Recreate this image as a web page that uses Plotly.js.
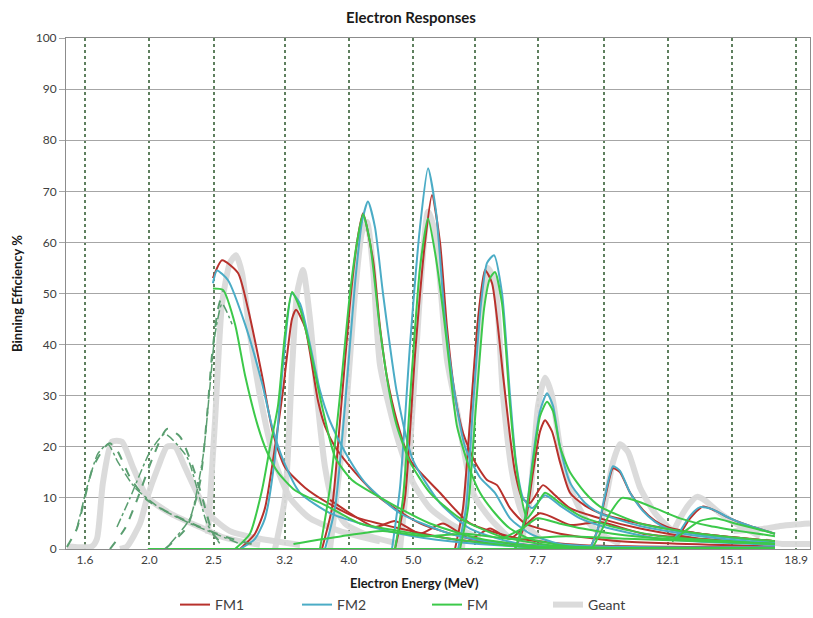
<!DOCTYPE html>
<html><head><meta charset="utf-8">
<script src="https://cdn.plot.ly/plotly-3.0.1.min.js"></script>
<style>html,body{margin:0;padding:0;background:#fff}#chart{width:813px;height:618px}</style>
</head><body><div id="chart"></div>
<script>
// ---- tick labels ----
const TICK_VALS = [1.6,2.0,2.5,3.2,4.0,5.0,6.2,7.7,9.7,12.1,15.1,18.9];
const TICK_TEXT = ['1.6','2.0','2.5','3.2','4.0','5.0','6.2','7.7','9.7','12.1','15.1','18.9'];

// ---- Geant (energies MeV, efficiency %) ----
const G1_E=[1.503,1.639,1.668,1.703,1.757,1.819,1.890,1.985,2.149,2.385,2.584,2.938];
const G1_Y=[0.5,0.5,2,13,21,21,16,10.2,7,4.3,2.3,0.8];
const G2_E=[1.807,1.851,1.937,1.985,2.062,2.127,2.187,2.264,2.360,2.470,2.647,2.938,3.376];
const G2_Y=[0,0.5,5,10,16,20,20,16,11,6.6,3.5,2,0.8];
const G3_E=[2.452,2.513,2.575,2.647,2.703,2.760,2.837,2.958,3.095,3.260,3.495,3.878,4.456];
const G3_Y=[3,25,48,56,57.5,54,42,28,17,10,6,3.5,1.5];
const G4_E=[3.095,3.204,3.283,3.341,3.411,3.495,3.593,3.682,3.785,3.946,4.304,4.777];
const G4_Y=[0,10,35,50,54.6,45,28,16,9,5,2.5,1];
const G5_E=[3.746,3.946,4.086,4.186,4.260,4.349,4.456,4.727,4.997,5.301,5.682,6.306];
const G5_Y=[0,25,50,62,64,55,36,22,13,8,5,2];
const G6_E=[4.777,4.946,5.120,5.265,5.395,5.623,5.822,6.155,6.529,6.999];
const G6_Y=[0,20,50,66,62,37,27,11,6,2];
const G7_E=[5.924,6.134,6.306,6.484,6.642,6.831,7.047,7.246,7.502,7.903];
const G7_Y=[0,25,45,55,52,30,15,8,4,1];
const G8_E=[7.246,7.502,7.713,7.903,8.097,8.325,8.620,9.081,9.566,10.254];
const G8_Y=[0,10,28,33.5,30,20,12,6,3,1];
const G9_E=[9.500,9.768,10.008,10.254,10.54,10.992,11.58,12.198,13.076];
const G9_Y=[2,10,17,20.5,19,12,7,4,2];
const G10_E=[12.198,12.629,13.076,13.397,13.774,14.51,15.555,16.672];
const G10_Y=[2,6,9,10.2,9.5,7,4.5,2.5];
const G11_E=[15.2,16.96,17.872,18.83,19.83];
const G11_Y=[3.5,4,4.5,4.8,5];
const G12_E=[17.0,18.0,19.83];
const G12_Y=[1.5,1,1];

// ---- FM1 ----
const R3_E=[2.495,2.575,2.722,2.818,2.958,3.073,3.204,3.435,3.720,4.086,4.777,5.682,6.760,8.325,17.56];
const R3_Y=[53,56.5,54,47,34,22.7,16,12,9,6.3,4,2,1,0.4,0.2];
const R4_E=[2.741,2.887,2.989,3.095,3.182,3.283,3.329,3.435,3.593,3.682,3.812,4.086,4.456,5.120,6.091,7.502,9.566,17.56];
const R4_Y=[0,3,8,20,31,45,46.8,43.4,29,24,20,15,10,5,2,0.8,0.4,0.2];
const R5_E=[3.643,3.772,3.878,4.015,4.114,4.201,4.349,4.456,4.566,4.727,4.946,5.488,6.091,7.246,8.924,17.56];
const R5_Y=[0,8,25,48,60,65.7,56.6,43.4,33.6,25,17.4,11,5,2,0.8,0.3];
const R6_E=[4.695,4.860,5.032,5.210,5.338,5.488,5.623,5.782,5.945,6.198,6.462,6.690,6.999,7.373,8.325,10.254,17.56];
const R6_Y=[0,10,38,60,69.3,60,43.4,30,22.7,17,13.5,12.5,8,5,3,1.5,0.5];
const R7_E=[5.782,5.945,6.091,6.263,6.417,6.575,6.831,6.999,7.122,7.296,7.502,7.848,8.182,8.620,9.566,10.992,13.538,17.56];
const R7_Y=[0,8,25,45,54.6,52,34,22,15,10,9,12.5,10.5,8,6,4,2,1];
const R8_E=[7.122,7.373,7.580,7.767,7.903,8.097,8.325,8.620,9.081,9.566,10.992,13.538,17.56];
const R8_Y=[0,5,15,23,25.2,23,17,11,8.5,7,5,3,1.5];
const R9_E=[9.239,9.500,9.734,10.008,10.254,10.617,11.107,11.580,12.072,13.538,16.102,17.56];
const R9_Y=[0,4,10,15.8,15,11,7.6,5.5,4.3,3,2,1.5];
const R10_E=[12.284,12.629,13.076,13.68,14.261,15.023,16.102,17.56];
const R10_Y=[1.5,3,6,8.3,7.5,6,4.5,3];
const RT_E=[3.746,4.015,4.379,4.695,5.12,5.546,6.091,6.529,6.999,7.767,8.620,9.566,11.107,17.56];
const RT_Y=[9.6,7,4.3,5.5,3,5,2,4,2,7,4.7,5.3,3,1];

// ---- FM2 ----
const B3_E=[2.495,2.530,2.629,2.789,2.958,3.063,3.171,3.376,3.746,4.157,4.777,5.682,7.246,17.56];
const B3_Y=[52,54.5,52.6,44,32.5,24,18,11,7,5,3,1.5,0.5,0.2];
const B4_E=[2.741,2.887,2.989,3.095,3.182,3.283,3.376,3.495,3.618,3.746,3.946,4.230,4.777,5.682,7.246,17.56];
const B4_Y=[0,2,6,18,36,50,48,40,31,25,19,13,7,3,0.5,0.2];
const B5_E=[3.682,3.812,3.946,4.086,4.186,4.274,4.379,4.503,4.727,4.997,5.488,6.091,7.246,17.56];
const B5_Y=[0,8,28,52,64,68,63,50,30.5,17.4,9,4,1,0.3];
const B6_E=[4.646,4.777,4.946,5.120,5.265,5.413,5.584,5.782,5.986,6.306,6.642,6.999,7.502,8.325,17.56];
const B6_Y=[0,12,40,63,74.5,66,45,30,20,14,11,6,3,1,0.3];
const B7_E=[5.843,6.007,6.155,6.328,6.462,6.620,6.807,6.999,7.146,7.322,7.554,7.903,8.325,8.924,9.904,11.78,17.56];
const B7_Y=[0,8,28,48,56,57.5,50,30,17,10,8,10.5,8.5,6,4,2,0.8];
const B8_E=[7.122,7.373,7.580,7.767,7.958,8.125,8.325,8.620,9.081,9.566,10.992,13.538,17.56];
const B8_Y=[0,6,18,27,30.5,28,20,13,9,7,4.5,2.5,1];
const B9_E=[9.239,9.500,9.734,10.008,10.254,10.617,11.107,11.580,12.072,13.538,16.102,17.56];
const B9_Y=[0,4,10.5,16.2,15.3,11,7.4,5.3,4,2.8,1.8,1.2];
const B10_E=[12.284,12.629,13.076,13.538,14.11,15.023,16.102,17.56];
const B10_Y=[1.5,3.5,6.5,8.2,7.8,6,4.5,3];

// ---- FM ----
const F0_E=[1.99,17.56];
const F0_Y=[0,0];
const F3_E=[2.495,2.584,2.694,2.789,2.917,3.010,3.127,3.317,3.720,4.157,4.777,5.682,7.246,9.566,17.56];
const F3_Y=[51,50.7,44,34,24,19,15,11.5,8.3,5,3.5,2,0.5,0.2,0.1];
const F4_E=[2.694,2.837,2.958,3.042,3.127,3.204,3.283,3.376,3.471,3.643,3.812,4.043,4.614,5.301,6.306,7.767,17.56];
const F4_Y=[0,3,11.5,20,28,42,50.3,47,41,28,18,13.5,9,5,2,0.5,0.2];
const F5_E=[3.618,3.746,3.878,4.015,4.114,4.201,4.304,4.456,4.614,4.727,4.946,5.301,5.883,6.760,8.325,17.56];
const F5_Y=[0,12,30,50,60,65.5,60,43,30,24,17,11,6,2.5,0.5,0.2];
const F6_E=[4.695,4.827,4.980,5.120,5.265,5.395,5.546,5.682,5.822,6.091,6.306,6.642,6.999,7.502,8.620,17.56];
const F6_Y=[0,10,35,55,64.7,58,46.7,35,24,15.5,11,7,4,2,0.5,0.2];
const F7_E=[5.883,6.049,6.219,6.395,6.529,6.642,6.807,6.999,7.122,7.246,7.424,7.633,7.903,8.325,8.924,9.904,11.78,17.56];
const F7_Y=[0,8,28,47,53,54.2,48,28,18,11.5,6,8,11,9,6.5,4.5,2.5,1];
const F8_E=[7.122,7.373,7.580,7.767,7.958,8.125,8.325,8.620,9.081,9.566,10.992,13.538,17.56];
const F8_Y=[0,6,17,26,28.8,27,20,15,11,8.3,5,3,1.5];
const F9_E=[9.304,9.566,9.904,10.326,10.802,11.580,12.629,14.016,15.555,17.56];
const F9_Y=[0,3,7,10,9.5,8,6,4.5,3.5,2.5];
const F10_E=[12.284,12.851,13.538,14.261,15.29,16.39,17.56];
const F10_Y=[1.5,3.5,5.5,6,5,4,3];
const FT_E=[6.8,7.3,7.7,8.3,9.0,10.0,12.0,17.56];
const FT_Y=[2,4,6,5,4,3,2,1];
const FT2_E=[3.3,3.9,4.5,5.2,6.0,7.0,8.5,10.5,13.5,17.56];
const FT2_Y=[1,2.5,3.5,2.5,3,2,2.5,2,1.5,1];

// ---- FM low bins (dashed / dash-dot) ----
const D1_E=[1.503,1.556,1.583,1.645,1.715,1.745,1.794,1.871,1.985,2.149,2.385,2.62,2.94];
const D1_Y=[0.4,4,7.6,16,20,20.7,19,14,9.6,7,4.3,2.3,0.5];
const DD1_E=[1.556,1.611,1.674,1.733,1.794,1.903,2.076,2.304,2.513,2.741];
const DD1_Y=[4,12,18.7,20.5,17,12,8,5,3,1];
const D2_E=[1.745,1.838,1.917,2.026,2.127,2.225,2.328,2.410,2.495,2.60];
const D2_Y=[0,4,9.6,18,23.5,22,16,9.6,3,0.5];
const DD2_E=[1.788,1.871,2.005,2.112,2.280,2.360,2.444,2.557];
const DD2_Y=[4.3,10,19,22.5,18,12,5,1];
const D3_E=[2.112,2.280,2.385,2.444,2.487,2.539,2.584];
const D3_Y=[0,4.3,13,26,38,47,50.5];
const DD3_E=[2.149,2.304,2.410,2.470,2.513,2.575,2.666];
const DD3_Y=[1,6,18,32,42,48,44];

const C_FM1='#b8312c', C_FM2='#4bacc6', C_FM='#3cc94a', C_GEANT='#d9d9d9', C_DASH='#5a9e70';

const traces=[];
function add(E,Y,name,color,width,opts){
  traces.push(Object.assign({
    x:E,y:Y,type:'scatter',mode:'lines',name:name,legendgroup:name,
    showlegend:false,hoverinfo:'skip',
    line:{color:color,width:width,shape:'spline',smoothing:0.6}
  },opts||{}));
}
const geant=[[G1_E,G1_Y],[G2_E,G2_Y],[G3_E,G3_Y],[G4_E,G4_Y],[G5_E,G5_Y],[G6_E,G6_Y],[G7_E,G7_Y],[G8_E,G8_Y],[G9_E,G9_Y],[G10_E,G10_Y],[G11_E,G11_Y],[G12_E,G12_Y]];
const fm1=[[R3_E,R3_Y],[R4_E,R4_Y],[R5_E,R5_Y],[R6_E,R6_Y],[R7_E,R7_Y],[R8_E,R8_Y],[R9_E,R9_Y],[R10_E,R10_Y],[RT_E,RT_Y]];
const fm2=[[B3_E,B3_Y],[B4_E,B4_Y],[B5_E,B5_Y],[B6_E,B6_Y],[B7_E,B7_Y],[B8_E,B8_Y],[B9_E,B9_Y],[B10_E,B10_Y]];
const fm=[[F0_E,F0_Y],[F3_E,F3_Y],[F4_E,F4_Y],[F5_E,F5_Y],[F6_E,F6_Y],[F7_E,F7_Y],[F8_E,F8_Y],[F9_E,F9_Y],[F10_E,F10_Y],[FT_E,FT_Y],[FT2_E,FT2_Y]];

geant.forEach((c,i)=>add(c[0],c[1],'Geant',C_GEANT,6,{showlegend:i===0,legend:'legend4',opacity:0.95}));
fm1.forEach((c,i)=>add(c[0],c[1],'FM1',C_FM1,2,{showlegend:i===0,legend:'legend'}));
fm2.forEach((c,i)=>add(c[0],c[1],'FM2',C_FM2,2,{showlegend:i===0,legend:'legend2'}));
fm.forEach((c,i)=>add(c[0],c[1],'FM',C_FM,2,{showlegend:i===0,legend:'legend3'}));
[[D1_E,D1_Y],[D2_E,D2_Y],[D3_E,D3_Y]].forEach(c=>add(c[0],c[1],'FM',C_DASH,2,{line:{color:C_DASH,width:2,dash:'dash',shape:'spline',smoothing:0.6}}));
[[DD1_E,DD1_Y],[DD2_E,DD2_Y],[DD3_E,DD3_Y]].forEach(c=>add(c[0],c[1],'FM',C_DASH,1.5,{line:{color:C_DASH,width:1.5,dash:'dashdot',shape:'spline',smoothing:0.6}}));

const FONT='Lato, "Open Sans", sans-serif';
function leg(xpx){
  return {orientation:'h',xref:'container',x:xpx/813,xanchor:'left',
          yref:'container',y:1-605/618,yanchor:'middle',
          font:{family:FONT,size:14,color:'#404040'},itemwidth:30,bgcolor:'rgba(0,0,0,0)'};
}
const layout={
  width:813,height:618,
  margin:{l:66,r:3,t:38,b:69,autoexpand:false},
  paper_bgcolor:'#ffffff',plot_bgcolor:'#ffffff',
  font:{family:FONT,size:12,color:'#404040'},
  title:{text:'<b>Electron Responses</b>',font:{family:FONT,size:15,color:'#1a1a1a'},
         xref:'container',x:0.5055,xanchor:'center',yref:'container',y:0.972,yanchor:'middle'},
  xaxis:{type:'log',range:[Math.log10(1.498),Math.log10(19.83)],
         tickvals:TICK_VALS,ticktext:TICK_TEXT,ticks:'',
         showgrid:true,gridcolor:'#5f805f',gridwidth:2,griddash:'dot',
         showline:true,linecolor:'#8c8c8c',linewidth:1,mirror:true,zeroline:false,
         tickfont:{family:FONT,size:12,color:'#404040'}},
  yaxis:{range:[0,100],dtick:10,tick0:0,ticks:'outside',ticklen:6,tickcolor:'#a6a6a6',
         showgrid:true,gridcolor:'#a6a6a6',gridwidth:1,
         showline:true,linecolor:'#8c8c8c',linewidth:1,mirror:true,zeroline:false,
         tickfont:{family:FONT,size:12,color:'#404040'},
         title:{text:'<b>Binning Efficiency %</b>',font:{family:FONT,size:13,color:'#1a1a1a'},standoff:10}},
  showlegend:true,
  legend:leg(175), legend2:leg(297), legend3:leg(427), legend4:leg(548),
  annotations:[{text:'<b>Electron Energy (MeV)</b>',xref:'paper',yref:'paper',x:0.469,y:-0.066,
    xanchor:'center',yanchor:'middle',showarrow:false,font:{family:FONT,size:13,color:'#1a1a1a'}}]
};
Plotly.newPlot('chart',traces,layout,{displayModeBar:false,staticPlot:true});
</script></body></html>
